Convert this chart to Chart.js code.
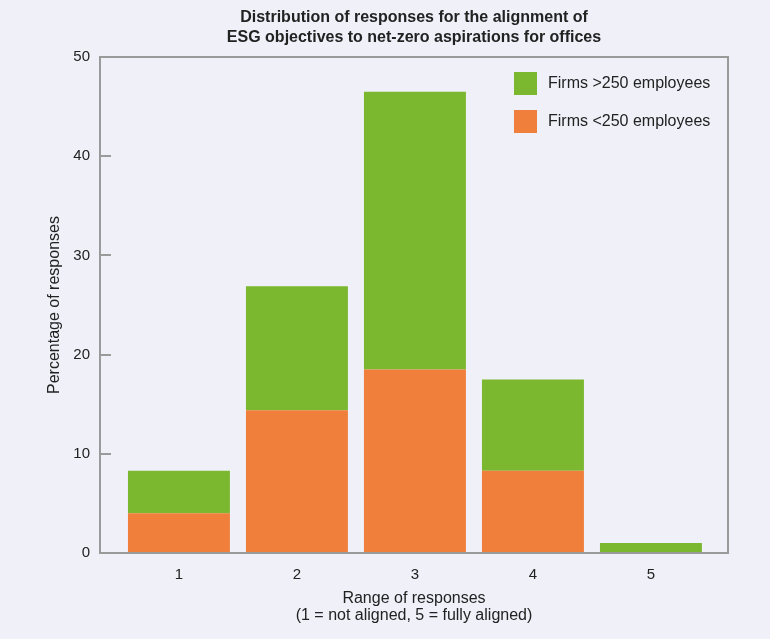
<!DOCTYPE html>
<html>
<head>
<meta charset="utf-8">
<script src="https://cdn.jsdelivr.net/npm/chart.js@4/dist/chart.umd.min.js"></script>
<style>
  html, body { margin: 0; padding: 0; background: #eff0f8; }
  #wrap { width: 770px; height: 639px; }
</style>
</head>
<body>
<div id="wrap"><canvas id="c" width="770" height="639"></canvas></div>
<script>
// Response categories (1 = not aligned, 5 = fully aligned)
const categories = [1, 2, 3, 4, 5];
const tickLabels = ['1', '2', '3', '4', '5'];

// Percentage of responses by firm size
const smallFirms = [4.0, 14.4, 18.5, 8.3, 0.0];   // Firms <250 employees
const largeFirms = [4.3, 12.5, 28.0, 9.2, 1.0];   // Firms >250 employees

const yTicks = [0, 10, 20, 30, 40, 50];

const titleLines = [
  'Distribution of responses for the alignment of',
  'ESG objectives to net-zero aspirations for offices'
];

const FONT = '"Liberation Sans", Arial, Helvetica, sans-serif';
const TEXT = '#222222';
const FRAME = '#9a9a9a';
const GREEN = '#7cb82f';
const ORANGE = '#ef7f3a';

const toPoints = vals => categories.map((c, i) => ({ x: c, y: vals[i] }));

// Background, title, frame, inward y ticks and the in-plot legend
const decor = {
  id: 'decor',
  beforeDraw(chart) {
    const { ctx, width, height } = chart;
    ctx.save();
    ctx.fillStyle = '#eff0f8';
    ctx.fillRect(0, 0, width, height);
    ctx.restore();
  },
  afterDatasetsDraw(chart) {
    const { ctx, chartArea: a } = chart;
    const yScale = chart.scales.y;
    ctx.save();
    // frame round the plot
    ctx.strokeStyle = FRAME;
    ctx.lineWidth = 2;
    ctx.strokeRect(a.left, a.top, a.right - a.left, a.bottom - a.top);
    // short tick marks pointing into the plot
    ctx.beginPath();
    yTicks.slice(1, -1).forEach(v => {
      const py = Math.round(yScale.getPixelForValue(v));
      ctx.moveTo(a.left, py);
      ctx.lineTo(a.left + 11, py);
    });
    ctx.lineWidth = 2;
    ctx.stroke();

    // title, centred on the plot
    const cx = (a.left + a.right) / 2;
    ctx.fillStyle = TEXT;
    ctx.font = 'bold 16px ' + FONT;
    ctx.textAlign = 'center';
    ctx.textBaseline = 'middle';
    ctx.fillText(titleLines[0], cx, 18);
    ctx.fillText(titleLines[1], cx, 38);

    // legend (larger firms listed first)
    const items = [chart.data.datasets[1], chart.data.datasets[0]];
    const lx = a.right - 214;
    ctx.font = '16px ' + FONT;
    ctx.textAlign = 'left';
    items.forEach((ds, i) => {
      const ty = a.top + 15 + i * 38;
      ctx.fillStyle = ds.backgroundColor;
      ctx.fillRect(lx, ty, 23, 23);
      ctx.fillStyle = TEXT;
      ctx.fillText(ds.label, lx + 34, ty + 12);
    });
    ctx.restore();
  }
};

new Chart(document.getElementById('c'), {
  type: 'bar',
  data: {
    datasets: [
      {
        label: 'Firms <250 employees',
        data: toPoints(smallFirms),
        backgroundColor: ORANGE,
        borderWidth: 0,
        barPercentage: 0.864,
        categoryPercentage: 1.0
      },
      {
        label: 'Firms >250 employees',
        data: toPoints(largeFirms),
        backgroundColor: GREEN,
        borderWidth: 0,
        barPercentage: 0.864,
        categoryPercentage: 1.0
      }
    ]
  },
  options: {
    responsive: false,
    animation: false,
    layout: { padding: { top: 57, right: 42, bottom: 0, left: 0 } },
    plugins: {
      legend: { display: false },
      tooltip: { enabled: false },
      title: { display: false }
    },
    scales: {
      x: {
        type: 'linear',
        stacked: true,
        offset: false,
        min: 0.331,
        max: 5.653,
        grid: { display: false, drawTicks: false, offset: false },
        border: { display: false },
        afterBuildTicks: s => { s.ticks = categories.map(v => ({ value: v })); },
        afterFit: s => { s.height = 86; },
        ticks: {
          padding: 13,
          color: TEXT,
          font: { family: FONT, size: 15 },
          callback: v => tickLabels[categories.indexOf(v)] ?? ''
        },
        title: {
          display: true,
          text: ['Range of responses', '(1 = not aligned, 5 = fully aligned)'],
          color: TEXT,
          font: { family: FONT, size: 16, lineHeight: 1.05 },
          padding: { top: 0, bottom: 15 }
        }
      },
      y: {
        stacked: true,
        min: 0,
        max: 50,
        grid: { display: false, drawTicks: false },
        border: { display: false },
        afterBuildTicks: s => { s.ticks = yTicks.map(v => ({ value: v })); },
        afterFit: s => { s.width = 100; },
        ticks: {
          padding: 10,
          color: TEXT,
          font: { family: FONT, size: 15 }
        },
        title: {
          display: true,
          text: 'Percentage of responses',
          color: TEXT,
          font: { family: FONT, size: 16, lineHeight: 1.2 },
          padding: { top: 45, bottom: 0 }
        }
      }
    }
  },
  plugins: [decor]
});
</script>
</body>
</html>
